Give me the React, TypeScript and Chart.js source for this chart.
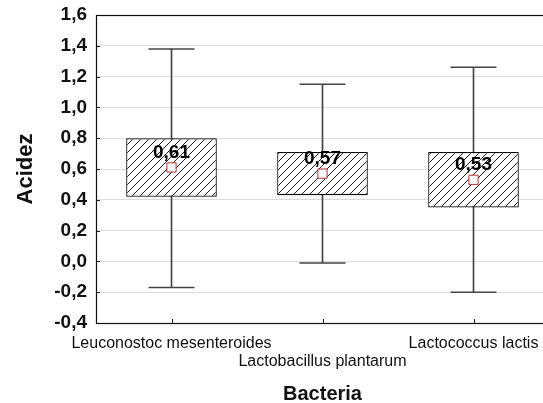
import React, { useEffect, useRef } from "react";
import { Chart, registerables } from "chart.js";

Chart.register(...registerables);

// Acidity per bacterium: mean, box (low/high) and whiskers (low/high)
const categories = ["Leuconostoc mesenteroides", "Lactobacillus plantarum", "Lactococcus lactis"];
const means = [0.61, 0.57, 0.53];
const boxLow = [0.42, 0.43, 0.35];
const boxHigh = [0.8, 0.71, 0.71];
const whiskerLow = [-0.17, -0.01, -0.2];
const whiskerHigh = [1.38, 1.15, 1.26];

const yMin = -0.4;
const yMax = 1.6;
const yStep = 0.2;

const FONT = "'Liberation Sans', Arial, sans-serif";

const comma = (v: number, digits: number) => {
  const n = Math.abs(v) < 1e-9 ? 0 : v;
  return n.toFixed(digits).replace(".", ",");
};

function makeHatch(ctx: CanvasRenderingContext2D): CanvasPattern {
  const s = 8;
  const c = document.createElement("canvas");
  c.width = s;
  c.height = s;
  const g = c.getContext("2d")!;
  g.fillStyle = "#ffffff";
  g.fillRect(0, 0, s, s);
  g.strokeStyle = "#1a1a1a";
  g.lineWidth = 1;
  g.beginPath();
  g.moveTo(0, s);
  g.lineTo(s, 0);
  g.moveTo(-1, 1);
  g.lineTo(1, -1);
  g.moveTo(s - 1, s + 1);
  g.lineTo(s + 1, s - 1);
  g.stroke();
  return ctx.createPattern(c, "repeat")!;
}

// Frame, inward tick marks and mean value labels
const decorations = {
  id: "decorations",
  afterDatasetsDraw(chart: any) {
    const { ctx, chartArea, scales } = chart;
    const { left, right, top, bottom } = chartArea;
    ctx.save();
    // inward ticks on both axes
    ctx.strokeStyle = "#222";
    ctx.lineWidth = 1;
    ctx.beginPath();
    scales.y.ticks.forEach((t: any) => {
      const y = Math.round(scales.y.getPixelForValue(t.value)) + 0.5;
      ctx.moveTo(left, y);
      ctx.lineTo(left + 4, y);
    });
    categories.forEach((_c, i) => {
      const x = Math.round(scales.x.getPixelForValue(i)) + 0.5;
      ctx.moveTo(x, bottom);
      ctx.lineTo(x, bottom - 4);
    });
    ctx.stroke();
    // plot frame
    ctx.strokeStyle = "#111";
    ctx.lineWidth = 1.2;
    ctx.strokeRect(Math.round(left) + 0.5, Math.round(top) + 0.5, right - left, bottom - top);
    // mean value labels
    const meta = chart.getDatasetMeta(3);
    ctx.font = `bold 19px ${FONT}`;
    ctx.fillStyle = "#000";
    ctx.textAlign = "center";
    ctx.textBaseline = "middle";
    meta.data.forEach((pt: any, i: number) => {
      ctx.fillText(comma(means[i], 2), pt.x, pt.y - 15);
    });
    ctx.restore();
  },
};

export default function App() {
  const ref = useRef<HTMLCanvasElement>(null);

  useEffect(() => {
    const canvas = ref.current!;
    const ctx = canvas.getContext("2d")!;
    const hatch = makeHatch(ctx);
    const labels = categories.map((c, i) => (i % 2 === 1 ? ["", c] : c));

    const chart = new Chart(canvas, {
      type: "bar",
      data: {
        labels,
        datasets: [
          {
            type: "bar",
            label: "whisker",
            data: whiskerLow.map((lo, i) => [lo, whiskerHigh[i]]),
            backgroundColor: "#444",
            borderWidth: 0,
            barThickness: 1,
            grouped: false,
            order: 3,
          } as any,
          {
            type: "bar",
            label: "box",
            data: boxLow.map((lo, i) => [lo, boxHigh[i]]),
            backgroundColor: hatch,
            borderColor: "#000",
            borderWidth: 1.2,
            borderSkipped: false,
            barPercentage: 0.6,
            categoryPercentage: 1,
            grouped: false,
            order: 1,
          } as any,
          {
            type: "line",
            label: "caps",
            data: [...whiskerHigh],
            showLine: false,
            pointStyle: "line",
            pointRadius: 23,
            pointBorderWidth: 1.5,
            pointBorderColor: "#444",
            order: 2,
          } as any,
          {
            type: "line",
            label: "mean",
            data: [...means],
            showLine: false,
            pointStyle: "rect",
            pointRadius: 6.5,
            pointBorderWidth: 1,
            pointBorderColor: "#b03030",
            pointBackgroundColor: "#ffffff",
            order: 0,
          } as any,
          {
            type: "line",
            label: "capsLow",
            data: [...whiskerLow],
            showLine: false,
            pointStyle: "line",
            pointRadius: 23,
            pointBorderWidth: 1.5,
            pointBorderColor: "#444",
            order: 2,
          } as any,
        ],
      },
      options: {
        animation: false,
        responsive: false,
        devicePixelRatio: 1,
        layout: { autoPadding: false, padding: { left: 0, top: 15, right: 11, bottom: 0 } },
        plugins: { legend: { display: false }, tooltip: { enabled: false } },
        scales: {
          x: {
            type: "category",
            offset: true,
            grid: { display: false, drawTicks: false },
            border: { display: false },
            ticks: {
              autoSkip: false,
              maxRotation: 0,
              minRotation: 0,
              padding: 11,
              color: "#111",
              font: { family: FONT, size: 16, lineHeight: 1.15 },
            },
            title: {
              display: true,
              text: "Bacteria",
              color: "#111",
              font: { family: FONT, size: 20, weight: "bold", lineHeight: 0.9 },
              padding: 0,
            },
            afterFit: (s: any) => {
              s.height = 80;
              s.paddingLeft = 0;
              s.paddingRight = 0;
            },
          },
          y: {
            min: yMin,
            max: yMax,
            grid: { color: "#dcdcdc", drawTicks: false },
            border: { display: false },
            ticks: {
              stepSize: yStep,
              padding: 9,
              color: "#111",
              font: { family: FONT, size: 19, weight: "bold" },
              callback: (v: any) => comma(Number(v), 1),
            },
            title: {
              display: true,
              text: "Acidez",
              color: "#111",
              font: { family: FONT, size: 22, weight: "bold", lineHeight: 1.2 },
              padding: { top: 13, bottom: 0 },
            },
            afterFit: (s: any) => {
              s.width = 96;
              s.paddingTop = 0;
              s.paddingBottom = 0;
            },
          },
        },
      },
      plugins: [decorations],
    });

    return () => chart.destroy();
  }, []);

  return (
    <div
      style={{
        position: "absolute",
        left: 0,
        top: 0,
        width: 543,
        height: 403,
        overflow: "hidden",
        background: "#fff",
      }}
    >
      <canvas ref={ref} width={560} height={403} style={{ display: "block" }} />
    </div>
  );
}
